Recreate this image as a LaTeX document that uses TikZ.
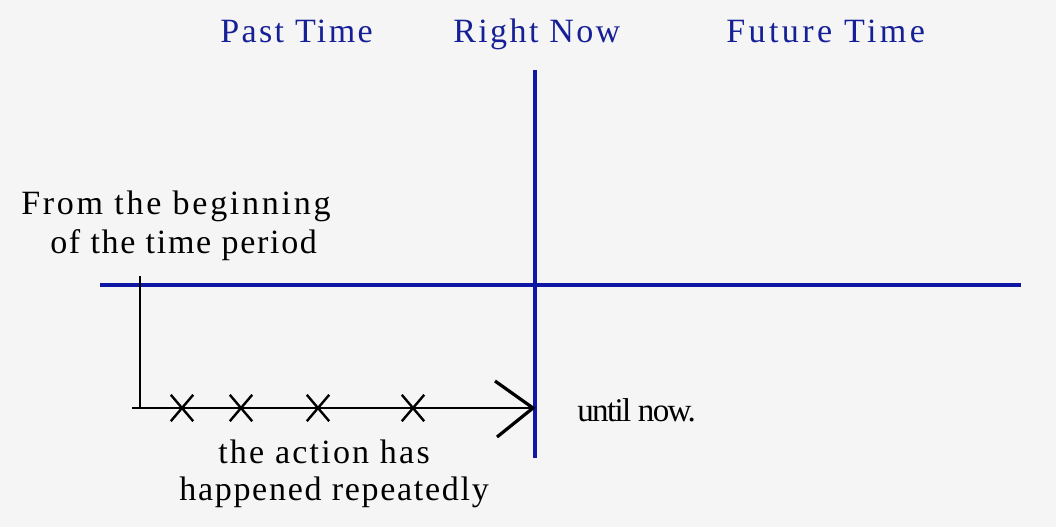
\documentclass[tikz,border=0pt]{standalone}
\usepackage{fontspec}
\setmainfont{Liberation Serif}
\newfontfamily\lsA[LetterSpace=7]{Liberation Serif}
\newfontfamily\lsC[LetterSpace=10]{Liberation Serif}
\newfontfamily\lsD[LetterSpace=8]{Liberation Serif}
\newfontfamily\lsE[LetterSpace=5]{Liberation Serif}
\newfontfamily\lsF[LetterSpace=6.5]{Liberation Serif}
\newfontfamily\lsG[LetterSpace=-5]{Liberation Serif}
\usetikzlibrary{shapes.misc}
\definecolor{inkblue}{RGB}{22,32,150}
\definecolor{lineblue}{RGB}{14,24,165}
\definecolor{paper}{RGB}{245,245,245}
\tikzset{
  lbl/.style={anchor=base west, inner sep=0pt, font=\fontsize{24.2}{29}\selectfont},
  head/.style={lbl, text=inkblue},
  axis/.style={draw=lineblue, line width=2.9pt},
  blk/.style={draw=black, line width=1.5pt},
  tick/.style={cross out, draw=black, line width=1.7pt, minimum width=20*0.025cm, minimum height=24*0.025cm, inner sep=0pt}
}
\begin{document}
\begin{tikzpicture}[x=0.025cm,y=-0.025cm]
\fill[paper] (0,0) rectangle (1056,527);
\useasboundingbox (0,0) rectangle (1056,527);
% headings
\node[head] (past) at (220,42) {\lsA Past Time};
\node[head] (now) at (453,42) {\lsA Right Now};
\node[head] (future) at (726,42) {\lsC Future Time};
% axes
\coordinate (nowTop) at (535,70);
\coordinate (nowBot) at (535,458);
\coordinate (lineL) at (100,285);
\coordinate (lineR) at (1021,285);
\draw[axis] (lineL) -- (lineR);
\draw[axis] (nowTop) -- (nowBot);
% black timeline
\coordinate (startTop) at (140,276);
\coordinate (corner) at (140,408);
\coordinate (lineStart) at (132,408);
\coordinate (tip) at (533,408);
\coordinate (armUp) at (495,381);
\coordinate (armDown) at (497,437);
\draw[blk] (startTop) -- (corner);
\draw[blk] (lineStart) -- (tip);
\draw[draw=black, line width=2.3pt] (armUp) -- (tip) -- (armDown);
\node[tick] (x1) at (182,408) {};
\node[tick] (x2) at (241,408) {};
\node[tick] (x3) at (318,408) {};
\node[tick] (x4) at (413,408) {};
% labels
\node[lbl] (from1) at (21,214) {\lsD From the beginning};
\node[lbl] (from2) at (50,253) {\lsE of the time period};
\node[lbl, font=\fontsize{23.5}{28}\selectfont] (until) at (577,421) {\lsG until now.};
\node[lbl] (act1) at (218,463) {\lsF the action has};
\node[lbl] (act2) at (179,500) {\lsE happened repeatedly};
\end{tikzpicture}
\end{document}
